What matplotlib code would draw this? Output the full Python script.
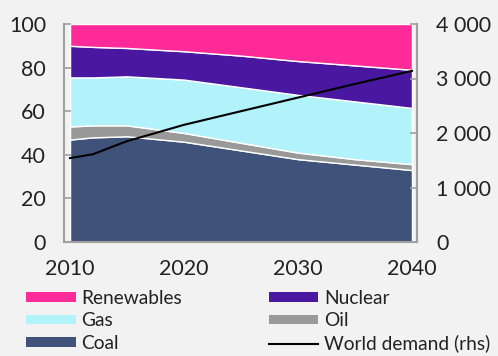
import matplotlib
matplotlib.use("Agg")
import matplotlib.pyplot as plt
from matplotlib.ticker import FuncFormatter

plt.rcParams['font.family'] = ['Lato', 'DejaVu Sans']

years = [2010, 2012, 2015, 2020, 2025, 2030, 2035, 2040]
coal = [47, 48, 48.5, 46, 42, 38, 35.5, 33]
oil = [6, 5.5, 5, 4, 3.5, 3, 2.5, 2.7]
gas = [22.5, 22, 22.5, 24.5, 25.5, 26.5, 26.5, 25.8]
nuclear = [14.5, 14, 13, 13, 14.5, 15.5, 16.5, 17.5]
renewables = [10, 10.5, 11, 12.5, 14.5, 17, 19, 21]
demand = [1540, 1610, 1850, 2150, 2400, 2650, 2900, 3140]

labels = ['Coal', 'Oil', 'Gas', 'Nuclear', 'Renewables']
colors = ['#3f527a', '#999999', '#b2f2fb', '#4a18a0', '#ff2a9a']
bg = '#f2f2f2'
tc = '#222222'

fig = plt.figure(figsize=(4.98, 3.56), dpi=100, facecolor=bg)
ax = fig.add_axes([64/498, 1-242/356, (417-64)/498, (242-24)/356])
ax.set_facecolor(bg)
polys = ax.stackplot(years, coal, oil, gas, nuclear, renewables,
                     colors=colors, labels=labels,
                     edgecolor='white', linewidth=1.0)
ax.set_xlim(2009.47, 2040.44)
ax.set_ylim(0, 100)
ax.set_xticks([2010, 2020, 2030, 2040])
ax.set_yticks(range(0, 101, 20))
ax.spines['top'].set_visible(False)
for s in ['left', 'bottom', 'right']:
    ax.spines[s].set_color('#a0a0a0')
    ax.spines[s].set_linewidth(1.5)
ax.tick_params(axis='y', direction='in', length=5, width=1.2, color='#a0a0a0',
               labelsize=15.5, pad=13, labelcolor=tc)
ax.tick_params(axis='x', length=0, labelsize=15.5, pad=12, labelcolor=tc)

ax2 = ax.twinx()
ax2.set_ylim(0, 4000)
ax2.set_yticks(range(0, 4001, 1000))
ax2.yaxis.set_major_formatter(FuncFormatter(lambda v, p: f"{int(v):,}".replace(',', ' ')))
ln, = ax2.plot(years, demand, color='black', linewidth=1.5, label='World demand (rhs)')
for s in ['top', 'left', 'bottom']:
    ax2.spines[s].set_visible(False)
ax2.spines['right'].set_color('#a0a0a0')
ax2.spines['right'].set_linewidth(1.5)
ax2.tick_params(axis='y', direction='in', length=5, width=1.2, color='#a0a0a0',
                labelsize=15.5, pad=14, labelcolor=tc)

handles = [polys[4], polys[2], polys[0], polys[3], polys[1], ln]
hl = ['Renewables', 'Gas', 'Coal', 'Nuclear', 'Oil', 'World demand (rhs)']
leg = fig.legend(handles, hl, ncol=2, loc='upper left', bbox_to_anchor=(26/498, 1-290/356),
                 frameon=False, fontsize=13.8, handlelength=2.6, handleheight=0.37,
                 labelspacing=0.28, columnspacing=4.5, handletextpad=0.3,
                 borderpad=0, borderaxespad=0)
for p in leg.get_patches():
    p.set_edgecolor('none')
for t in leg.get_texts():
    t.set_color(tc)

fig.savefig('out.png', dpi=100, facecolor=bg)
